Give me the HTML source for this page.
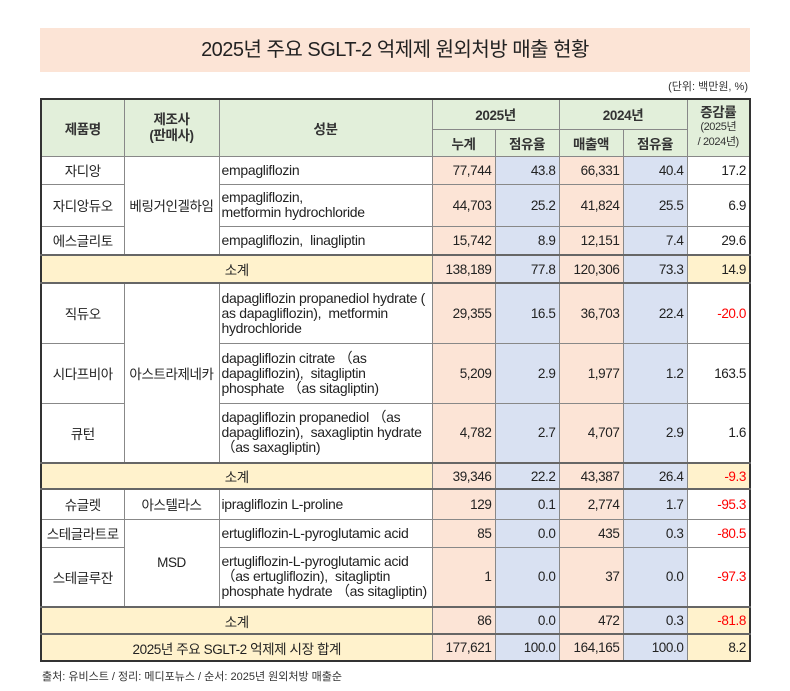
<!DOCTYPE html>
<html><head><meta charset="utf-8"><style>
body{margin:0;width:790px;height:691px;background:#fff;font-family:"Liberation Sans","Noto Sans CJK KR",sans-serif;color:#222;position:relative;overflow:hidden}
.title{position:absolute;left:40px;top:28px;width:710px;height:44px;background:#fce4d6;text-align:center;line-height:44px;font-size:20px;letter-spacing:-0.5px}
.unit{position:absolute;right:42px;top:78px;font-size:11px;color:#333}
table{position:absolute;left:40px;top:98px;border-collapse:collapse;table-layout:fixed;border:2px solid #333;font-size:13.5px}
td{border:1px solid #888;padding:0 3px;text-align:center;overflow:hidden;letter-spacing:-0.4px;white-space:nowrap}
.h{background:#e2efda;font-weight:bold;color:#333}
.l{text-align:left;padding:0 2px;font-size:14px;line-height:15px;white-space:normal;letter-spacing:-0.3px}
.p{background:#fce4d6;text-align:right}
.b{background:#d9e1f2;text-align:right}
.w{text-align:right}
.y{background:#fff2cc}
.yr{background:#fff2cc;text-align:right}
.r{color:#f00}
.st td{border-top:2px solid #666;border-bottom:2px solid #666}
.foot{position:absolute;left:42px;top:668px;font-size:11px;color:#333}
</style></head><body>
<div class="title">2025년 주요 SGLT-2 억제제 원외처방 매출 현황</div>
<div class="unit">(단위: 백만원, %)</div>
<table>
<colgroup><col style="width:83px"><col style="width:95px"><col style="width:213px"><col style="width:63px"><col style="width:64px"><col style="width:64px"><col style="width:64px"><col style="width:63px"></colgroup>
<tr style="height:30px"><td class="h" rowspan="2">제품명</td><td class="h" rowspan="2" style="line-height:16px">제조사<br>(판매사)</td><td class="h" rowspan="2">성분</td><td class="h" colspan="2">2025년</td><td class="h" colspan="2">2024년</td><td class="h" rowspan="2" style="line-height:13px">증감률<br><span style="font-size:11px;font-weight:normal">(2025년<br>/ 2024년)</span></td></tr>
<tr style="height:27px"><td class="h">누계</td><td class="h">점유율</td><td class="h">매출액</td><td class="h">점유율</td></tr>
<tr style="height:28px"><td>자디앙</td><td rowspan="3">베링거인겔하임</td><td class="l">empagliflozin</td><td class="p">77,744</td><td class="b">43.8</td><td class="p">66,331</td><td class="b">40.4</td><td class="w">17.2</td></tr>
<tr style="height:42px"><td>자디앙듀오</td><td class="l">empagliflozin,<br>metformin hydrochloride</td><td class="p">44,703</td><td class="b">25.2</td><td class="p">41,824</td><td class="b">25.5</td><td class="w">6.9</td></tr>
<tr style="height:29px"><td>에스글리토</td><td class="l">empagliflozin,&nbsp; linagliptin</td><td class="p">15,742</td><td class="b">8.9</td><td class="p">12,151</td><td class="b">7.4</td><td class="w">29.6</td></tr>
<tr class="st" style="height:28px"><td class="y" colspan="3">소계</td><td class="p">138,189</td><td class="b">77.8</td><td class="p">120,306</td><td class="b">73.3</td><td class="yr">14.9</td></tr>
<tr style="height:60px"><td>직듀오</td><td rowspan="3">아스트라제네카</td><td class="l">dapagliflozin propanediol hydrate ( as dapagliflozin),&nbsp; metformin hydrochloride</td><td class="p">29,355</td><td class="b">16.5</td><td class="p">36,703</td><td class="b">22.4</td><td class="w r">-20.0</td></tr>
<tr style="height:60px"><td>시다프비아</td><td class="l">dapagliflozin citrate （as dapagliflozin),&nbsp; sitagliptin phosphate （as sitagliptin)</td><td class="p">5,209</td><td class="b">2.9</td><td class="p">1,977</td><td class="b">1.2</td><td class="w">163.5</td></tr>
<tr style="height:60px"><td>큐턴</td><td class="l">dapagliflozin propanediol （as dapagliflozin),&nbsp; saxagliptin hydrate （as saxagliptin)</td><td class="p">4,782</td><td class="b">2.7</td><td class="p">4,707</td><td class="b">2.9</td><td class="w">1.6</td></tr>
<tr class="st" style="height:26px"><td class="y" colspan="3">소계</td><td class="p">39,346</td><td class="b">22.2</td><td class="p">43,387</td><td class="b">26.4</td><td class="yr r">-9.3</td></tr>
<tr style="height:30px"><td>슈글렛</td><td>아스텔라스</td><td class="l">ipragliflozin L-proline</td><td class="p">129</td><td class="b">0.1</td><td class="p">2,774</td><td class="b">1.7</td><td class="w r">-95.3</td></tr>
<tr style="height:28px"><td>스테글라트로</td><td rowspan="2">MSD</td><td class="l">ertugliflozin-L-pyroglutamic acid</td><td class="p">85</td><td class="b">0.0</td><td class="p">435</td><td class="b">0.3</td><td class="w r">-80.5</td></tr>
<tr style="height:60px"><td>스테글루잔</td><td class="l">ertugliflozin-L-pyroglutamic acid （as ertugliflozin),&nbsp; sitagliptin phosphate hydrate （as sitagliptin)</td><td class="p">1</td><td class="b">0.0</td><td class="p">37</td><td class="b">0.0</td><td class="w r">-97.3</td></tr>
<tr class="st" style="height:27px"><td class="y" colspan="3">소계</td><td class="p">86</td><td class="b">0.0</td><td class="p">472</td><td class="b">0.3</td><td class="yr r">-81.8</td></tr>
<tr style="height:27px"><td class="y" colspan="3">2025년 주요 SGLT-2 억제제 시장 합계</td><td class="p">177,621</td><td class="b">100.0</td><td class="p">164,165</td><td class="b">100.0</td><td class="yr">8.2</td></tr>
</table>
<div class="foot">출처: 유비스트 / 정리: 메디포뉴스 / 순서: 2025년 원외처방 매출순</div>
</body></html>
